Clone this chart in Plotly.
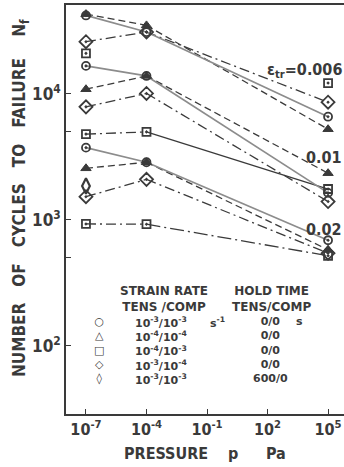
import plotly.graph_objects as go

# ---------------- data ----------------
P = [1e-7, 1e-4, 1e5]                       # pressure, Pa

# eps_tr = 0.006
c006 = [4.2e4, 3.1e4, 6.6e3]
t006 = [4.3e4, 3.5e4, 5.25e3]
d006 = [2.6e4, 3.1e4, 8.6e3]
s006 = [2.1e4, None, 1.22e4]
# eps_tr = 0.01
c01 = [1.67e4, 1.39e4, 1.64e3]
t01 = [1.09e4, 1.39e4, 2.35e3]
d01 = [7.9e3, 1.01e4, 1.4e3]
s01 = [4.8e3, 5.0e3, 1.76e3]
# eps_tr = 0.02
c02 = [3.75e3, 2.87e3, 690]
t02 = [2.57e3, 2.87e3, 580]
d02 = [1.53e3, 2.1e3, 545]
s02 = [930, 925, 520]
h02 = [1.86e3, None, None]                  # 600/0 s hold time

x_tickvals = [1e-7, 1e-4, 1e-1, 1e2, 1e5]
x_ticktext = ["10<sup>-7</sup>", "10<sup>-4</sup>", "10<sup>-1</sup>", "10<sup>2</sup>", "10<sup>5</sup>"]
y_tickvals = [1e2, 5e2, 1e3, 5e3, 1e4]
y_ticktext = ["10<sup>2</sup>", "", "10<sup>3</sup>", "", "10<sup>4</sup>"]

legend_sym = ["○", "△", "□", "◇", "◊"]
legend_rate = ["10<sup>-3</sup>/10<sup>-3</sup>", "10<sup>-4</sup>/10<sup>-4</sup>",
               "10<sup>-4</sup>/10<sup>-3</sup>", "10<sup>-3</sup>/10<sup>-4</sup>",
               "10<sup>-3</sup>/10<sup>-3</sup>"]
legend_hold = ["0/0", "0/0", "0/0", "0/0", "600/0"]

# ---------------- styling ----------------
INK = "#3a3a3a"
GRAY = "#8c8c8c"
FONT = "Liberation Sans Narrow, DejaVu Sans Condensed, Liberation Sans, Arial, sans-serif"
WIDE = "DejaVu Sans, Liberation Sans, Arial, sans-serif"
DASH = "7px,4px"
DASHDOT = "10px,4px,2px,4px"

W, H = 344, 467
L, R, T, B = 66, 0, 5, 53
PW, PH = W - L - R, H - T - B


def px(x):
    return (x - L) / PW


def py(y):
    return (H - B - y) / PH


fig = go.Figure()


def seg(vals, i, dash, color=INK, width=1.3):
    xs = [P[i], P[i + 1]]
    ys = [vals[i], vals[i + 1]]
    if None in ys:
        return
    fig.add_trace(go.Scatter(x=xs, y=ys, mode="lines", hoverinfo="skip",
                             line=dict(color=color, width=width, dash=dash)))


series_lines = [
    (t006, [DASH, DASH], INK), (d006, [DASHDOT, DASHDOT], INK), (c006, ["solid", "solid"], GRAY),
    (t01, [DASH, DASH], INK), (d01, [DASHDOT, DASHDOT], INK), (s01, [DASHDOT, "solid"], INK),
    (c01, ["solid", "solid"], GRAY),
    (t02, [DASH, DASH], INK), (d02, [DASHDOT, DASHDOT], INK), (s02, [DASHDOT, "14px,4px,2px,4px"], INK),
    (c02, ["solid", "solid"], GRAY),
]
for vals, dashes, col in series_lines:
    for i, d in enumerate(dashes):
        seg(vals, i, d, col, 1.7 if col == GRAY else 1.3)


def marks(vals, symbol, size, lw=1.8):
    fig.add_trace(go.Scatter(x=P, y=vals, mode="markers", hoverinfo="skip",
                             marker=dict(symbol=symbol, size=size, color=INK,
                                         line=dict(color=INK, width=lw))))


for v in (t006, t01, t02):
    marks(v, "triangle-up", 9, 1)
for v in (s006, s01, s02):
    marks(v, "square-open-dot", 8)
for v in (d006, d01, d02):
    marks(v, "diamond-open-dot", 10)
for v in (c006, c01, c02):
    marks(v, "circle-open-dot", 8)
marks(h02, "diamond-tall-open", 11, 2.2)

TICKFONT = dict(size=16, color=INK, family=FONT, weight="bold")
fig.update_xaxes(type="log", range=[-7.99, 5.79], tickvals=x_tickvals, ticktext=x_ticktext,
                 ticks="inside", ticklen=5, tickwidth=1.3, tickcolor=INK,
                 showline=True, mirror=True, linecolor=INK, linewidth=1.6,
                 showgrid=False, zeroline=False, tickfont=TICKFONT)
fig.update_yaxes(type="log", range=[1.46, 4.706], tickvals=y_tickvals, ticktext=y_ticktext,
                 ticks="inside", ticklen=5, tickwidth=1.3, tickcolor=INK,
                 showline=True, mirror=False, linecolor=INK, linewidth=1.6,
                 showgrid=False, zeroline=False, tickfont=dict(TICKFONT, size=17))

ann = []


def text(x, y, s, size=14, xanchor="center", angle=0, weight="bold", yanchor="middle", family=FONT):
    ann.append(dict(x=px(x), y=py(y), xref="paper", yref="paper", text=s, showarrow=False,
                    xanchor=xanchor, yanchor=yanchor, textangle=angle,
                    font=dict(size=size, color=INK, family=family, weight=weight)))


# series labels
text(344, 70, "ε<sub>tr</sub>=0.006", 16, "right")
text(344, 157, "0.01", 16, "right")
text(344, 230, "0.02", 16, "right")

# axis titles
nb = "\u00a0"
g = nb * 3
text(20, 198, f"NUMBER{g}OF{g}CYCLES{g}TO{g}FAILURE{g}{nb}N<sub>f</sub>", 17, angle=-90)
text(166, 453, "PRESSURE", 16)
text(233, 453, "p", 16)
text(276, 453, "Pa", 16)

# legend block (multi-line columns)
br = "<br>"
text(164, 282, "STRAIN RATE" + br + "TENS /COMP", 12, yanchor="top", family=WIDE)
text(271, 282, "HOLD TIME" + br + "TENS/COMP", 12, yanchor="top", family=WIDE)
text(99, 313, br.join(legend_sym), 11, yanchor="top", weight="normal", family=WIDE)
text(161, 313, br.join(legend_rate), 11, yanchor="top", family=WIDE)
text(217, 313, "s<sup>-1</sup>", 11, yanchor="top", family=WIDE)
text(290, 313, br.join(legend_hold), 11, "right", yanchor="top", family=WIDE)
text(299, 313, "s", 11, yanchor="top", family=WIDE)

fig.update_layout(width=W, height=H, margin=dict(l=L, r=R, t=T, b=B),
                  paper_bgcolor="white", plot_bgcolor="white", showlegend=False,
                  annotations=ann, font=dict(family=FONT, color=INK))

fig.write_html("out.html")
